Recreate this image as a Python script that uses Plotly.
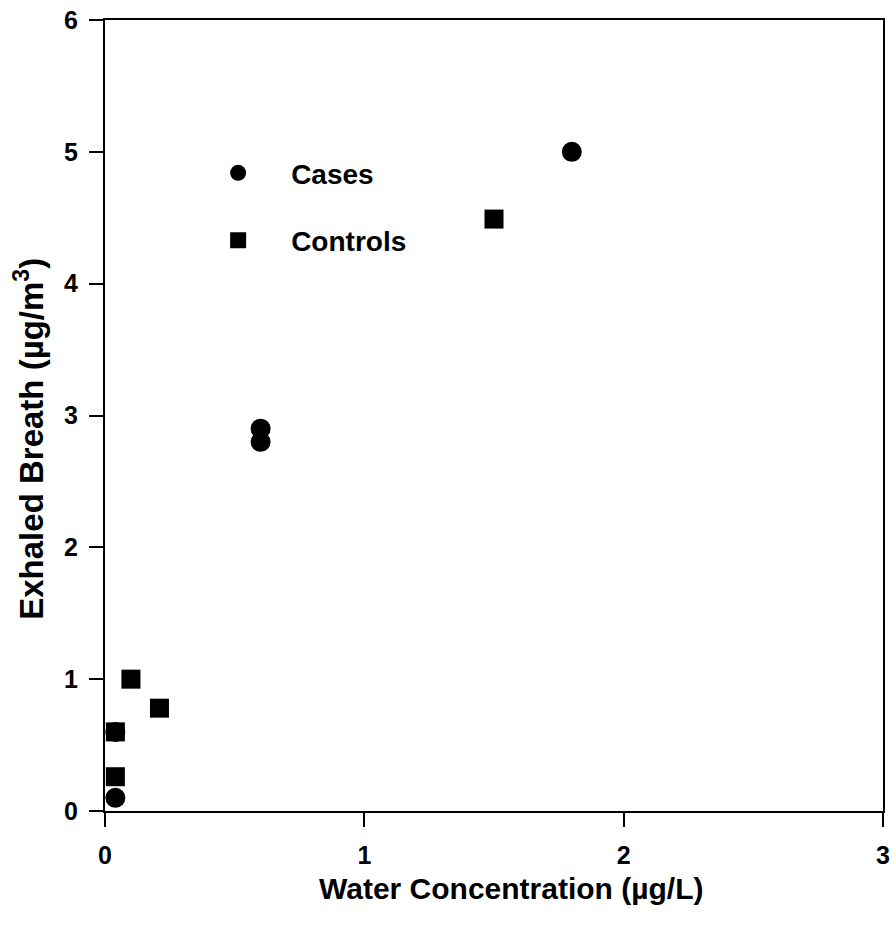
import plotly.graph_objects as go

# Data
cases_x = [1.8, 0.6, 0.6, 0.04, 0.04]
cases_y = [5.0, 2.9, 2.8, 0.6, 0.1]

controls_x = [1.5, 0.1, 0.21, 0.04, 0.04]
controls_y = [4.49, 1.0, 0.78, 0.6, 0.26]

x_ticks = [0, 1, 2, 3]
y_ticks = [0, 1, 2, 3, 4, 5, 6]

x_title = "Water Concentration (µg/L)"
y_title = "Exhaled Breath (µg/m<sup>3</sup>)"

FONT = "Liberation Sans, Arial, sans-serif"

fig = go.Figure()
fig.add_trace(go.Scatter(
    x=controls_x, y=controls_y, mode="markers", name="Controls",
    legendgroup="b", legendrank=2,
    marker=dict(symbol="square", size=19, color="black"),
    cliponaxis=False,
))
fig.add_trace(go.Scatter(
    x=cases_x, y=cases_y, mode="markers", name="Cases",
    legendgroup="a", legendrank=1,
    marker=dict(symbol="circle", size=20, color="black"),
    cliponaxis=False,
))

axis_common = dict(
    showgrid=False, zeroline=False, automargin=False,
    showline=True, linecolor="black", linewidth=2, mirror=True,
    ticks="outside", ticklen=14, tickwidth=2, tickcolor="black",
    tickfont=dict(family=FONT, size=25, color="black", weight="bold"),
)

fig.update_layout(
    width=894, height=939,
    margin=dict(l=105, r=11, t=20, b=128),
    paper_bgcolor="white", plot_bgcolor="white",
    xaxis=dict(range=[0, 3], tickvals=x_ticks, ticklabelstandoff=7, **axis_common),
    yaxis=dict(range=[0, 6], tickvals=y_ticks, ticklabelstandoff=6, **axis_common),
    legend=dict(x=0.103, y=0.838, xanchor="left", yanchor="top",
                bgcolor="rgba(0,0,0,0)", tracegroupgap=28, itemwidth=96,
                font=dict(family=FONT, size=28, color="black", weight="bold")),
    showlegend=True,
    annotations=[
        dict(text=x_title, xref="paper", yref="paper", x=0.522, y=-0.098,
             xanchor="center", yanchor="middle", showarrow=False,
             font=dict(family=FONT, size=30, color="black", weight="bold")),
        dict(text=y_title, xref="paper", yref="paper", x=-0.097, y=0.47,
             xanchor="center", yanchor="middle", showarrow=False, textangle=-90,
             font=dict(family=FONT, size=33, color="black", weight="bold")),
    ],
)

fig.write_html("out.html")
